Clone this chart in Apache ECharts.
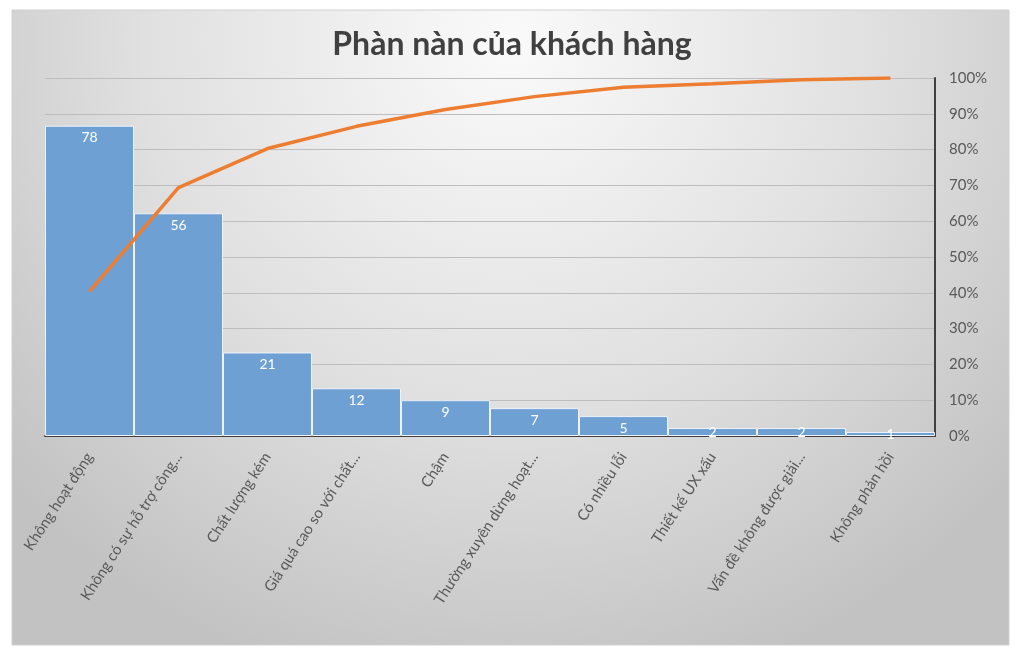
<!DOCTYPE html>
<html>
<head>
<meta charset="utf-8">
<script src="https://cdn.jsdelivr.net/npm/echarts@6/dist/echarts.min.js"></script>
<style>
  html, body { margin: 0; padding: 0; background: #fff; }
  #chart { width: 1024px; height: 657px; }
</style>
</head>
<body>
<div id="chart"></div>
<script>
// dữ liệu
var categories = ['Không hoạt động', 'Không có sự hỗ trợ công...', 'Chất lượng kém',
    'Giá quá cao so với chất...', 'Chậm', 'Thường xuyên dừng hoạt...', 'Có nhiều lỗi',
    'Thiết kế UX xấu', 'Vấn đề không được giải...', 'Không phản hồi'];
var counts = [78, 56, 21, 12, 9, 7, 5, 2, 2, 1];
var cumulative = [0.404, 0.694, 0.803, 0.865, 0.912, 0.948, 0.974, 0.984, 0.995, 1.0];

var font = 'Lato, "Open Sans", sans-serif';

var myChart = echarts.init(document.getElementById('chart'));

var option = {
    backgroundColor: '#ffffff',
    textStyle: { fontFamily: font },
    graphic: [{
        type: 'rect',
        z: -10,
        silent: true,
        shape: { x: 12, y: 10, width: 997, height: 635 },
        style: {
            fill: {
                type: 'radial', x: 0.5, y: 0.05, r: 1.05,
                colorStops: [
                    { offset: 0, color: '#fafafa' },
                    { offset: 0.55, color: '#e0e0e0' },
                    { offset: 1, color: '#c2c2c2' }
                ]
            },
            stroke: '#d0d0d0',
            lineWidth: 1
        }
    }],
    title: {
        text: 'Phàn nàn của khách hàng',
        left: 'center',
        top: 24,
        textStyle: { fontFamily: font, fontSize: 32, fontWeight: 'bold', color: '#404040' }
    },
    grid: { left: 45, right: 89, top: 78, bottom: 221 },
    xAxis: {
        type: 'category',
        data: categories,
        axisLine: { lineStyle: { color: '#404040', width: 2 } },
        axisTick: { show: false },
        axisLabel: {
            interval: 0,
            rotate: 57,
            fontSize: 15,
            color: '#595959',
            margin: 18
        }
    },
    yAxis: [{
        type: 'value',
        min: 0,
        max: 90,
        show: false,
        splitLine: { show: false }
    }, {
        type: 'value',
        position: 'right',
        min: 0,
        max: 1,
        interval: 0.1,
        axisLine: { show: true, lineStyle: { color: '#404040', width: 2 } },
        axisTick: { show: false },
        splitLine: { lineStyle: { color: '#bdbdbd', width: 1 } },
        axisLabel: {
            fontSize: 15,
            color: '#595959',
            margin: 14,
            formatter: function (v) { return Math.round(v * 100) + '%'; }
        }
    }],
    series: [{
        type: 'bar',
        yAxisIndex: 0,
        barCategoryGap: 0,
        data: counts.map(function (v) {
            return v < 5 ? { value: v, label: { position: 'inside' } } : v;
        }),
        itemStyle: { color: '#6fa0d4', borderColor: '#eef3fa', borderWidth: 1 },
        label: {
            show: true,
            position: 'insideTop',
            distance: 5,
            color: '#ffffff',
            fontSize: 14,
            fontFamily: font
        }
    }, {
        type: 'line',
        yAxisIndex: 1,
        data: cumulative,
        showSymbol: false,
        symbol: 'none',
        lineStyle: { color: '#ed7d31', width: 3.5 },
        z: 5
    }]
};

myChart.setOption(option);
</script>
</body>
</html>
